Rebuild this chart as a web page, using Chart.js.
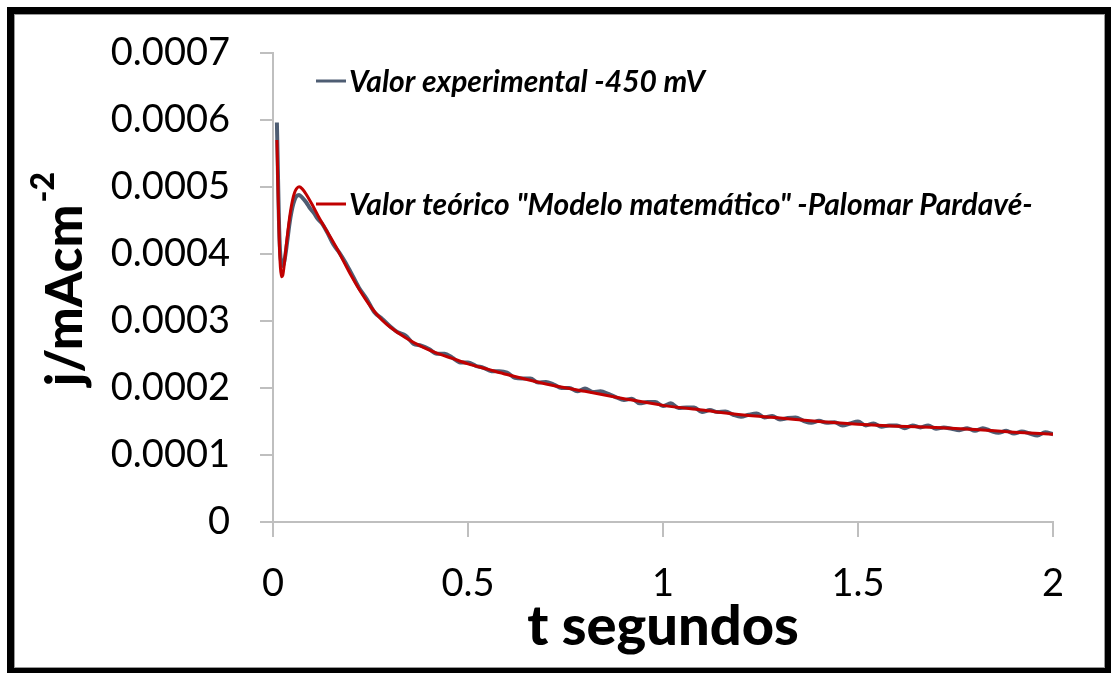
<!DOCTYPE html>
<html>
<head>
<meta charset="utf-8">
<script src="https://cdn.jsdelivr.net/npm/chart.js@4.4.1/dist/chart.umd.min.js"></script>
<style>
  html, body { margin: 0; padding: 0; background: #fff; }
  canvas { display: block; }
</style>
</head>
<body>
<canvas id="chart" width="1111" height="673"></canvas>
<script>
// chronoamperometry transient, j vs t
const expLabel = "Valor experimental -450 mV";
const theoLabel = 'Valor teórico "Modelo matemático" -Palomar Pardavé-';

const expT = [
  0.010, 0.012, 0.015, 0.018, 0.022, 0.026, 0.030, 0.035, 0.040, 0.045,
  0.050, 0.055, 0.060, 0.067, 0.075, 0.085, 0.095, 0.105, 0.115, 0.125,
  0.14, 0.155, 0.17, 0.185, 0.20,
  0.22, 0.24, 0.26, 0.28, 0.30, 0.32, 0.34, 0.36, 0.38, 0.40,
  0.42, 0.44, 0.46, 0.48, 0.50, 0.52, 0.54, 0.56, 0.58, 0.60,
  0.62, 0.64, 0.66, 0.68, 0.70, 0.72, 0.74, 0.76, 0.78, 0.80,
  0.82, 0.84, 0.86, 0.88, 0.90, 0.92, 0.94, 0.96, 0.98, 1.00,
  1.02, 1.04, 1.06, 1.08, 1.10, 1.12, 1.14, 1.16, 1.18, 1.20,
  1.22, 1.24, 1.26, 1.28, 1.30, 1.32, 1.34, 1.36, 1.38, 1.40,
  1.42, 1.44, 1.46, 1.48, 1.50, 1.52, 1.54, 1.56, 1.58, 1.60,
  1.62, 1.64, 1.66, 1.68, 1.70, 1.72, 1.74, 1.76, 1.78, 1.80,
  1.82, 1.84, 1.86, 1.88, 1.90, 1.92, 1.94, 1.96, 1.98, 2.00
];
const expJ = [
  0.000596, 0.000540, 0.000455, 0.000405, 0.000385, 0.000382, 0.000392, 0.000412, 0.000435, 0.000455,
  0.000470, 0.000480, 0.000486, 0.000488, 0.000484, 0.000477, 0.000468, 0.000461, 0.000452, 0.000446,
  0.000431, 0.000414, 0.000402, 0.000388, 0.000372,
  0.000350, 0.000333, 0.000313, 0.000303, 0.000292, 0.000283, 0.000278, 0.000266, 0.000263, 0.000258,
  0.000251, 0.000251, 0.000245, 0.000238, 0.000238, 0.000233, 0.000230, 0.000225, 0.000225, 0.000223,
  0.000215, 0.000214, 0.000214, 0.000208, 0.000209, 0.000205, 0.000200, 0.000200, 0.000195, 0.000199,
  0.000194, 0.000195, 0.000191, 0.000186, 0.000182, 0.000184, 0.000177, 0.000179, 0.000179, 0.000173,
  0.000177, 0.000170, 0.000171, 0.000171, 0.000164, 0.000167, 0.000164, 0.000165, 0.000160, 0.000157,
  0.000160, 0.000162, 0.000156, 0.000158, 0.000153, 0.000155, 0.000156, 0.000151, 0.000148, 0.000151,
  0.000148, 0.000149, 0.000144, 0.000147, 0.000150, 0.000144, 0.000147, 0.000142, 0.000144, 0.000144,
  0.000140, 0.000144, 0.000141, 0.000144, 0.000139, 0.000141, 0.000139, 0.000137, 0.000140, 0.000136,
  0.000140, 0.000136, 0.000133, 0.000136, 0.000132, 0.000135, 0.000132, 0.000129, 0.000134, 0.000131
];

const theoT = [
  0.010, 0.013, 0.016, 0.019, 0.022, 0.025, 0.030, 0.035, 0.040, 0.045,
  0.050, 0.055, 0.060, 0.067, 0.075, 0.085, 0.10, 0.12, 0.14, 0.16,
  0.18, 0.20, 0.22, 0.24, 0.26, 0.28, 0.30, 0.34, 0.38, 0.42,
  0.46, 0.50, 0.55, 0.60, 0.70, 0.80, 0.90, 1.00, 1.10, 1.20,
  1.30, 1.40, 1.50, 1.60, 1.70, 1.80, 1.90, 2.00
];
const theoJ = [
  0.000570, 0.000490, 0.000420, 0.000380, 0.000366, 0.000368, 0.000390, 0.000418, 0.000443, 0.000464,
  0.000480, 0.000491, 0.000497, 0.000500, 0.000497, 0.000489, 0.000474, 0.000452, 0.000432, 0.000412,
  0.000390, 0.000368, 0.000348, 0.000330, 0.000314, 0.000301, 0.000291, 0.000275, 0.000262, 0.000252,
  0.000244, 0.000236, 0.000228, 0.000220, 0.000206, 0.000195, 0.000184, 0.000174, 0.000167, 0.000160,
  0.000155, 0.000150, 0.000146, 0.000143, 0.000141, 0.000138, 0.000134, 0.000131
];

const xTicks = [0, 0.5, 1, 1.5, 2];
const yTicks = [0, 0.0001, 0.0002, 0.0003, 0.0004, 0.0005, 0.0006, 0.0007];

const FONT = "Lato, Carlito, 'Open Sans', sans-serif";
const axisGray = "#bfbfbf";

// white page, black frame, custom legend and y title
const decor = {
  id: "decor",
  beforeDraw(chart) {
    const ctx = chart.ctx;
    ctx.save();
    ctx.fillStyle = "#fff";
    ctx.fillRect(0, 0, chart.width, chart.height);
    ctx.restore();
  },
  afterDraw(chart) {
    const ctx = chart.ctx;
    ctx.save();

    // frame
    ctx.strokeStyle = "#000";
    ctx.lineWidth = 7;
    ctx.strokeRect(10.5, 10.5, 1098, 661);
    ctx.strokeStyle = "#9a9a9a";
    ctx.lineWidth = 1;
    ctx.strokeRect(14.5, 14.5, 1090, 653);

    // legend entries placed inside the plot
    const entries = [
      { ds: chart.data.datasets[0], y: 81 },
      { ds: chart.data.datasets[1], y: 204 }
    ];
    ctx.font = "italic bold 30px " + FONT;
    ctx.textBaseline = "middle";
    ctx.textAlign = "left";
    entries.forEach(e => {
      ctx.strokeStyle = e.ds.borderColor;
      ctx.lineWidth = 3;
      ctx.beginPath();
      ctx.moveTo(316, e.y);
      ctx.lineTo(346, e.y);
      ctx.stroke();
      ctx.fillStyle = "#000";
      ctx.fillText(e.ds.label, 349, e.y + 1);
    });

    // y axis title with superscript
    ctx.translate(82, 279);
    ctx.rotate(-Math.PI / 2);
    ctx.fillStyle = "#000";
    ctx.textBaseline = "alphabetic";
    ctx.font = "900 51px " + FONT;
    const main = "j/mAcm";
    const wMain = ctx.measureText(main).width;
    ctx.font = "900 32px " + FONT;
    const sup = "-2";
    const wSup = ctx.measureText(sup).width;
    const x0 = -(wMain + wSup + 2) / 2;
    ctx.font = "900 51px " + FONT;
    ctx.fillText(main, x0, 0);
    ctx.font = "900 32px " + FONT;
    ctx.fillText(sup, x0 + wMain + 2, -28);

    ctx.restore();
  }
};

const fmt = v => String(Number(v.toFixed(4)));

new Chart(document.getElementById("chart"), {
  type: "line",
  data: {
    datasets: [
      {
        label: expLabel,
        data: expT.map((t, i) => ({ x: t, y: expJ[i] })),
        borderColor: "#4e5d73",
        borderWidth: 4,
        pointRadius: 0,
        cubicInterpolationMode: "monotone",
        order: 1
      },
      {
        label: theoLabel,
        data: theoT.map((t, i) => ({ x: t, y: theoJ[i] })),
        borderColor: "#c00000",
        borderWidth: 3,
        pointRadius: 0,
        cubicInterpolationMode: "monotone",
        order: 0
      }
    ]
  },
  options: {
    responsive: false,
    animation: false,
    devicePixelRatio: 1,
    layout: { padding: { top: 44, right: 58, left: 0, bottom: 0 } },
    plugins: {
      legend: { display: false },
      tooltip: { enabled: false }
    },
    scales: {
      x: {
        type: "linear",
        min: 0,
        max: 2,
        afterBuildTicks: s => { s.ticks = xTicks.map(v => ({ value: v })); },
        afterFit: s => { s.height = 151; },
        border: { color: axisGray, width: 2 },
        grid: { drawOnChartArea: false, drawTicks: true, tickLength: 15, color: axisGray, lineWidth: 2 },
        ticks: {
          color: "#000",
          padding: 24,
          maxRotation: 0,
          font: { family: FONT, size: 38 },
          callback: v => fmt(v)
        },
        title: {
          display: true,
          text: "t segundos",
          color: "#000",
          font: { family: FONT, size: 56, weight: "900", lineHeight: 1 },
          padding: { top: 0, bottom: 18 }
        }
      },
      y: {
        type: "linear",
        min: 0,
        max: 0.0007,
        afterBuildTicks: s => { s.ticks = yTicks.map(v => ({ value: v })); },
        afterFit: s => { s.width = 273; },
        border: { color: axisGray, width: 2 },
        grid: { drawOnChartArea: false, drawTicks: true, tickLength: 13, color: axisGray, lineWidth: 2 },
        ticks: {
          color: "#000",
          padding: 30,
          font: { family: FONT, size: 38 },
          callback: v => fmt(v)
        }
      }
    }
  },
  plugins: [decor]
});
</script>
</body>
</html>
